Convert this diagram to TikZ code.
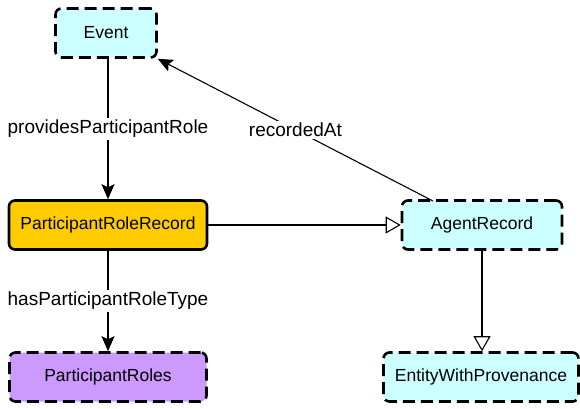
\documentclass[tikz,border=0pt]{standalone}
\usepackage{fontspec}
\setmainfont{Liberation Sans}
\usetikzlibrary{arrows.meta}
\definecolor{clscyan}{HTML}{CCFFFF}
\definecolor{recgold}{HTML}{FFCC00}
\definecolor{rolelilac}{HTML}{CC99FF}

\begin{document}
\begin{tikzpicture}[x=1pt, y=-1pt,
        box/.style={draw, line width=2.6pt, rounded corners=6pt, minimum height=49pt,
            font=\fontsize{17.5}{21}\selectfont, inner sep=0pt},
        dashbox/.style={box, dash pattern=on 12pt off 6pt},
        cls/.style={dashbox, fill=clscyan},
        rel/.style={line width=1.1pt, -{Stealth[length=15pt, width=13pt, inset=3pt]}},
        sub/.style={line width=1.1pt, -{Triangle[open, length=15pt, width=17pt, fill=white]}},
        lbl/.style={fill=white, font=\fontsize{19}{22}\selectfont, inner sep=2pt}]
        \useasboundingbox (0,0) rectangle (580,408);

        % Classes
        \node[cls, minimum width=101pt] (event) at (106,33) {Event};
        \node[box, fill=recgold, minimum width=198pt] (prr) at (108,225) {ParticipantRoleRecord};
        \node[cls, minimum width=160pt] (agent) at (482,225) {AgentRecord};
        \node[dashbox, fill=rolelilac, minimum width=197pt] (roles) at (108,377) {ParticipantRoles};
        \node[cls, minimum width=195pt] (ewp) at (481,377) {EntityWithProvenance};

        % Object properties
        \draw[rel] (event.south -| prr.north) -- node[lbl] {providesParticipantRole} (prr.north);
        \draw[rel] (prr.south) -- node[lbl] {hasParticipantRoleType} (roles.north);
        \draw[rel] (433,201) -- node[lbl] {recordedAt} (event.south east);

        % Subclass links
        \draw[sub] (prr.east) -- (agent.west);
        \draw[sub] (agent.south) -- (agent.south |- ewp.north);
\end{tikzpicture}
\end{document}
